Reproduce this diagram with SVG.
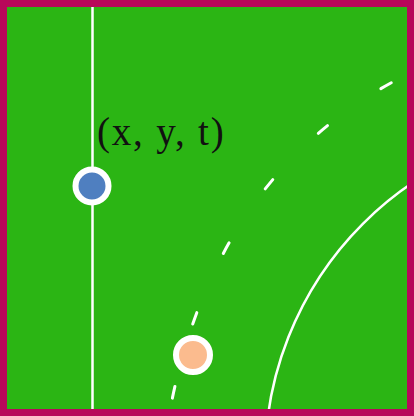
<svg xmlns="http://www.w3.org/2000/svg" width="414" height="416" viewBox="0 0 414 416">
<style>
.line{fill:none;stroke:#ffffff;stroke-width:2.5}
.dash{fill:none;stroke:#ffffff;stroke-width:3;stroke-linecap:round;stroke-dasharray:12 65;stroke-dashoffset:65}
.node{stroke:#ffffff;stroke-width:6}
.label{font-family:"Liberation Serif","Times New Roman",serif;font-size:39px;fill:#111111;letter-spacing:1.8px}
</style>
<rect x="3.5" y="3.5" width="407" height="409" fill="#2bb514"/>
<g id="field">
<line class="line" x1="92.5" y1="7" x2="92.5" y2="409" stroke-width="3"/>
<circle class="line" cx="599" cy="460" r="334"/>
</g>
<g id="connectors">
<path class="dash" d="M170,410 Q215,175 400,78"/>
</g>
<g id="node-blue">
<circle class="node" cx="92" cy="186" r="16.5" fill="#4f7fc0"/>
</g>
<g id="node-orange">
<circle class="node" cx="193" cy="355" r="17" fill="#fbbb8e"/>
</g>
<g id="label">
<text class="label" x="97" y="145">(x, y, t)</text>
</g>
<rect x="3.5" y="3.5" width="407" height="409" fill="none" stroke="#b8085a" stroke-width="7"/>
</svg>
